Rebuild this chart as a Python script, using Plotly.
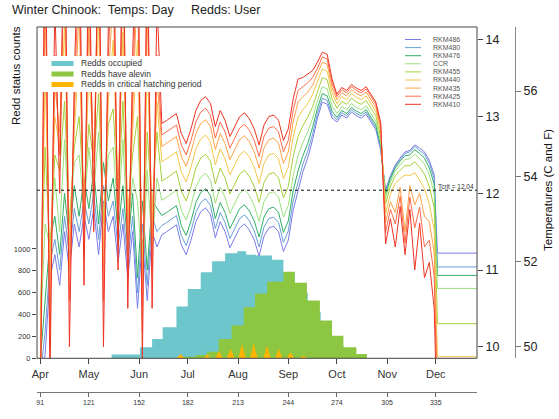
import plotly.graph_objects as go

# ---------------- data ----------------
month_days = [91, 121, 152, 182, 213, 244, 274, 305, 335]
month_labels = ['Apr', 'May', 'Jun', 'Jul', 'Aug', 'Sep', 'Oct', 'Nov', 'Dec']
count_ticks = [0, 200, 400, 600, 800, 1000]
c_ticks = [10, 11, 12, 13, 14]
f_ticks = [50, 52, 54, 56]
tcrit = 12.04

# Redd counts (weekly step bins: left edges, counts; last count 0 closes the step)
occ_edges = [135, 152.5, 160, 166.5, 175, 182, 190, 197, 205, 212.5, 218, 224, 234, 241, 248, 256, 264, 271, 278, 285]
occ_counts = [34, 100, 177, 284, 473, 634, 787, 888, 961, 979, 946, 940, 900, 780, 600, 420, 260, 120, 40, 0]
alv_edges = [176, 187, 194, 201, 209, 216.5, 223.5, 231, 241, 248, 255.5, 263.5, 271, 278, 286, 292.5]
alv_counts = [15, 30, 60, 177, 299, 467, 589, 700, 790, 690, 528, 345, 207, 100, 40, 0]
crit_days = [175, 177.6, 180, 192, 194, 196, 199, 201.2, 203.5, 206, 208.4, 211, 213.2, 215.5, 217.8, 220.4, 222.7, 225,
             228.6, 230.9, 233.2, 235.8, 238.1, 240.4, 243, 245.3, 247.6, 251.2, 253.5, 255.8]
crit_counts = [0, 40, 0, 0, 40, 0, 0, 70, 0, 0, 85, 0, 0, 131, 0, 0, 137, 0,
               0, 116, 0, 0, 85, 0, 0, 55, 0, 0, 24, 0]

# Daily water temperature (deg C), by site (sampled every few days)
temp_days = [91, 94, 97, 100, 103, 106, 109, 112, 115, 118, 121, 124, 127, 130, 133, 136, 139, 142, 145, 148,
             151, 154, 157, 160, 163,
             166, 169, 172, 175, 178, 181, 184, 187, 190, 193, 196, 199, 202, 205, 208, 211, 214, 217, 220, 223,
             226, 229, 232, 235, 238, 241, 244, 247, 250, 253, 256, 259, 262, 265, 268, 271, 274, 277, 280, 283,
             286, 289, 292, 295, 298, 301, 304, 307, 310, 313, 316, 319, 322, 325, 328, 331, 334,
             336, 361]
rkm486 = [9.5, 9.9, 10.9, 11.2, 10.8, 11.5, 11.0, 11.6, 11.3, 11.7, 11.4, 11.8, 11.2, 11.9, 11.5, 11.7, 11.1, 11.6, 10.9, 11.5,
          10.5, 11.4, 10.6, 11.5, 11.3,
          11.46, 11.50, 11.55, 11.59, 11.33, 11.20, 11.39, 11.63, 11.76, 11.81, 11.72, 11.42, 11.63, 11.50, 11.29, 11.42,
          11.55, 11.60, 11.52, 11.39, 11.18, 11.44, 11.55, 11.57, 11.50, 11.24, 11.39, 11.78, 12.04, 12.28, 12.46, 12.70,
          12.98, 13.19, 13.16, 12.98, 12.93, 13.02, 12.98, 13.06, 13.01, 12.98, 13.03, 12.93, 12.83, 12.56, 12.04, 12.23,
          12.37, 12.46, 12.54, 12.56, 12.63, 12.59, 12.54, 12.43, 12.24,
          11.22, 11.22]
rkm480 = [9.6, 10.2, 11.1, 11.4, 11.0, 11.7, 11.2, 11.8, 11.5, 11.9, 11.6, 12.0, 11.4, 12.1, 11.7, 11.9, 11.3, 11.8, 11.1, 11.7,
          10.7, 11.6, 10.8, 11.7, 11.5,
          11.58, 11.62, 11.67, 11.71, 11.45, 11.32, 11.51, 11.75, 11.88, 11.93, 11.84, 11.54, 11.75, 11.62, 11.41, 11.54,
          11.67, 11.72, 11.64, 11.51, 11.30, 11.56, 11.67, 11.69, 11.62, 11.36, 11.51, 11.90, 12.16, 12.38, 12.55, 12.77,
          13.04, 13.24, 13.21, 13.02, 12.96, 13.05, 13.01, 13.09, 13.04, 13.01, 13.06, 12.96, 12.86, 12.59, 12.02, 12.21,
          12.35, 12.44, 12.52, 12.54, 12.61, 12.56, 12.51, 12.39, 12.19,
          11.04, 11.04]
rkm476 = [9.8, 10.6, 11.4, 11.7, 11.2, 12.0, 11.4, 12.1, 11.7, 12.2, 11.8, 12.3, 11.6, 12.4, 11.9, 12.2, 11.5, 12.1, 11.3, 12.0,
          10.9, 11.9, 11.0, 11.9, 11.8,
          11.71, 11.75, 11.80, 11.84, 11.58, 11.45, 11.64, 11.88, 12.01, 12.06, 11.97, 11.67, 11.88, 11.75, 11.54, 11.67,
          11.80, 11.85, 11.77, 11.64, 11.43, 11.69, 11.80, 11.82, 11.75, 11.49, 11.64, 12.03, 12.29, 12.49, 12.65, 12.86,
          13.11, 13.30, 13.27, 13.07, 12.99, 13.08, 13.04, 13.12, 13.07, 13.04, 13.09, 12.99, 12.89, 12.62, 11.99, 12.19,
          12.33, 12.42, 12.49, 12.50, 12.57, 12.52, 12.46, 12.33, 12.12,
          10.93, 10.93]
ccr = [10.1, 11.6, 11.3, 12.2, 11.5, 12.7, 11.6, 12.4, 12.5, 11.8, 12.6, 12.0, 12.8, 11.7, 12.5, 12.6, 11.7, 12.7, 11.4, 12.2,
       11.9, 11.0, 12.3, 11.3, 12.2,
       11.91, 11.95, 12.00, 12.04, 11.78, 11.65, 11.84, 12.08, 12.21, 12.26, 12.17, 11.87, 12.08, 11.95, 11.74, 11.87,
       12.00, 12.05, 11.97, 11.84, 11.63, 11.89, 12.00, 12.02, 11.95, 11.69, 11.84, 12.23, 12.49, 12.66, 12.80, 12.98,
       13.21, 13.39, 13.36, 13.14, 13.04, 13.13, 13.09, 13.17, 13.12, 13.09, 13.14, 13.04, 12.94, 12.67, 11.94, 12.15,
       12.29, 12.37, 12.44, 12.45, 12.51, 12.45, 12.38, 12.24, 12.00,
       10.76, 10.76]
rkm455 = [10.4, 12.6, 11.2, 12.5, 12.3, 13.2, 11.6, 12.6, 13.0, 11.9, 12.9, 12.4, 13.3, 11.6, 12.9, 13.1, 11.9, 13.2, 11.7, 12.5,
          13.0, 11.1, 12.8, 11.8, 12.8,
          12.16, 12.20, 12.25, 12.29, 12.03, 11.90, 12.09, 12.33, 12.46, 12.51, 12.42, 12.12, 12.33, 12.20, 11.99, 12.12,
          12.25, 12.30, 12.22, 12.09, 11.88, 12.14, 12.25, 12.27, 12.20, 11.94, 12.09, 12.48, 12.74, 12.88, 12.99, 13.13,
          13.33, 13.51, 13.48, 13.23, 13.11, 13.20, 13.16, 13.24, 13.19, 13.16, 13.21, 13.11, 13.01, 12.74, 11.86, 12.09,
          12.23, 12.30, 12.36, 12.36, 12.41, 12.34, 12.25, 12.09, 11.81,
          10.3, 10.3]
rkm440 = [9.8, 13.6, 10.9, 13.0, 12.6, 14.2, 11.3, 12.8, 13.8, 11.8, 13.6, 12.5, 14.3, 11.3, 13.2, 14.0, 11.9, 14.1, 11.6, 12.8,
          14.0, 10.9, 13.7, 11.6, 13.2,
          12.41, 12.45, 12.50, 12.54, 12.28, 12.15, 12.34, 12.58, 12.71, 12.76, 12.67, 12.37, 12.58, 12.45, 12.24, 12.37,
          12.50, 12.55, 12.47, 12.34, 12.13, 12.39, 12.50, 12.52, 12.45, 12.19, 12.34, 12.73, 12.99, 13.09, 13.17, 13.29,
          13.46, 13.62, 13.59, 13.31, 13.17, 13.26, 13.22, 13.30, 13.25, 13.22, 13.27, 13.17, 13.07, 12.80, 11.74, 11.99,
          12.13, 12.19, 12.24, 12.23, 12.27, 12.17, 12.06, 11.86, 11.52,
          9.87, 9.87]
rkm435 = [9.5, 14.6, 10.5, 13.4, 12.8, 15.0, 11.0, 13.0, 14.4, 11.6, 14.2, 12.4, 15.0, 11.0, 13.5, 14.6, 11.8, 14.8, 11.4, 13.0,
          14.8, 10.6, 14.4, 11.4, 13.5,
          12.61, 12.65, 12.70, 12.74, 12.48, 12.35, 12.54, 12.78, 12.91, 12.96, 12.87, 12.57, 12.78, 12.65, 12.44, 12.57,
          12.70, 12.75, 12.67, 12.54, 12.33, 12.59, 12.70, 12.72, 12.65, 12.39, 12.54, 12.93, 13.19, 13.26, 13.32, 13.41,
          13.56, 13.71, 13.68, 13.38, 13.22, 13.31, 13.27, 13.35, 13.30, 13.27, 13.32, 13.22, 13.12, 12.85, 11.62, 11.89,
          11.75, 12.08, 11.50, 12.10, 11.85, 12.00, 11.70, 11.63, 11.23,
          9.5, 9.5]
rkm425 = [9.2, 15.2, 10.0, 13.8, 12.5, 15.5, 10.6, 13.2, 15.0, 11.2, 14.8, 12.0, 15.5, 10.6, 13.8, 15.2, 11.4, 15.4, 11.0, 13.4,
          15.5, 10.2, 15.0, 11.0, 13.8,
          12.76, 12.80, 12.85, 12.89, 12.63, 12.50, 12.69, 12.93, 13.06, 13.11, 13.02, 12.72, 12.93, 12.80, 12.59, 12.72,
          12.85, 12.90, 12.82, 12.69, 12.48, 12.74, 12.85, 12.87, 12.80, 12.54, 12.69, 13.08, 13.34, 13.39, 13.44, 13.51,
          13.63, 13.78, 13.75, 13.44, 13.26, 13.35, 13.31, 13.39, 13.34, 13.31, 13.36, 13.26, 13.16, 12.89, 11.49, 11.79,
          11.60, 11.96, 11.35, 11.95, 11.55, 11.82, 11.30, 11.39, 10.92,
          9.2, 9.2]
rkm410 = [8.8, 16.0, 9.5, 14.5, 12.0, 16.0, 10.0, 13.5, 15.8, 10.8, 15.5, 11.5, 16.0, 10.0, 14.2, 15.8, 11.0, 16.0, 10.5, 13.8,
          16.0, 9.8, 15.5, 10.5, 14.5,
          12.91, 12.95, 13.00, 13.04, 12.78, 12.65, 12.84, 13.08, 13.21, 13.26, 13.17, 12.87, 13.08, 12.95, 12.74, 12.87,
          13.00, 13.05, 12.97, 12.84, 12.63, 12.89, 13.00, 13.02, 12.95, 12.69, 12.84, 13.23, 13.49, 13.51, 13.55, 13.60,
          13.71, 13.84, 13.81, 13.49, 13.29, 13.38, 13.34, 13.42, 13.37, 13.34, 13.39, 13.29, 13.19, 12.92, 11.34, 11.67,
          11.30, 11.83, 11.20, 11.79, 11.00, 11.61, 10.90, 11.10, 10.50,
          8.9, 8.9]

site_names = ['RKM486', 'RKM480', 'RKM476', 'CCR', 'RKM455', 'RKM440', 'RKM435', 'RKM425', 'RKM410']
site_values = [rkm486, rkm480, rkm476, ccr, rkm455, rkm440, rkm435, rkm425, rkm410]
site_colors = ['#7b7be8', '#6a9ed8', '#2fae66', '#9be07c', '#a6cf3a', '#f2c64c', '#ffa24a', '#ff6a4a', '#ec3424']

redd_names = ['Redds occupied', 'Redds have alevin', 'Redds in critical hatching period']
redd_colors = ['#6cc6cb', '#8dc641', '#ffb400']

# ---------------- geometry ----------------
W, H = 559, 419
ML, MR, MT, MB = 37, 29, 27, 27
PW, PH = W - ML - MR, H - MT - MB
x_range = [89, 360.4]
count_range = [0, 3028]
c_range = [9.849, 14.168]
f_range = [c * 1.8 + 32 for c in c_range]


def px(x):
    return (x - ML) / PW


def py(y):
    return (H - MB - y) / PH


x_dom = [0, px(477)]
y_dom = [py(358.3), 1]
FONT = 'Liberation Sans, Arial, Helvetica, sans-serif'

fig = go.Figure()

# redd count areas (left axis)
fig.add_trace(go.Scatter(x=occ_edges, y=occ_counts, mode='lines', line=dict(width=0, shape='hv'),
                         fill='tozeroy', fillcolor=redd_colors[0], xaxis='x', yaxis='y',
                         showlegend=False, hoverinfo='skip'))
fig.add_trace(go.Scatter(x=alv_edges, y=alv_counts, mode='lines', line=dict(width=0, shape='hv'),
                         fill='tozeroy', fillcolor=redd_colors[1], xaxis='x', yaxis='y',
                         showlegend=False, hoverinfo='skip'))
fig.add_trace(go.Scatter(x=crit_days, y=crit_counts, mode='lines', line=dict(width=0),
                         fill='tozeroy', fillcolor=redd_colors[2], xaxis='x', yaxis='y',
                         showlegend=False, hoverinfo='skip'))

# temperature lines (right axis)
for name, vals, col in zip(site_names, site_values, site_colors):
    fig.add_trace(go.Scatter(x=temp_days, y=vals, mode='lines', name=name,
                             line=dict(color=col, width=1), xaxis='x', yaxis='y2',
                             showlegend=False, cliponaxis=True))

# critical temperature
fig.add_trace(go.Scatter(x=x_range, y=[tcrit, tcrit], mode='lines',
                         line=dict(color='#111', width=1, dash='dot'), xaxis='x', yaxis='y2',
                         showlegend=False, hoverinfo='skip'))

# dummies so secondary axes render
fig.add_trace(go.Scatter(x=[month_days[0]], y=[0], xaxis='x2', yaxis='y', mode='markers',
                         marker=dict(opacity=0), showlegend=False, hoverinfo='skip'))
fig.add_trace(go.Scatter(x=[month_days[0]], y=[f_ticks[0]], xaxis='x', yaxis='y3', mode='markers',
                         marker=dict(opacity=0), showlegend=False, hoverinfo='skip'))

fig.update_layout(
    width=W, height=H,
    margin=dict(l=ML, r=MR, t=MT, b=MB, pad=0),
    paper_bgcolor='white', plot_bgcolor='white',
    font=dict(family=FONT, color='#222'),
    showlegend=False,
    xaxis=dict(domain=x_dom, range=x_range, anchor='y', tickvals=month_days, ticktext=month_labels,
               ticks='outside', ticklen=5, tickcolor='#444', tickfont=dict(size=11, color='#333'),
               showgrid=False, zeroline=False, showline=False),
    xaxis2=dict(domain=x_dom, range=x_range, overlaying='x', anchor='free', position=0, side='bottom',
                tickvals=month_days, ticktext=[str(d) for d in month_days],
                ticks='outside', ticklen=4, tickcolor='#666', tickfont=dict(size=7, color='#333'),
                showline=True, linecolor='#777', linewidth=1, showgrid=False, zeroline=False),
    yaxis=dict(domain=y_dom, range=count_range, anchor='x', tickvals=count_ticks,
               ticks='outside', ticklen=4, tickcolor='#444', tickfont=dict(size=7.5, color='#333'),
               showgrid=False, zeroline=False, showline=False),
    yaxis2=dict(domain=y_dom, range=c_range, overlaying='y', anchor='x', side='right', tickvals=c_ticks,
                ticks='outside', ticklen=5, tickcolor='#444', tickfont=dict(size=12.5, color='#222'),
                showgrid=False, zeroline=False, showline=False),
    yaxis3=dict(domain=y_dom, range=f_range, overlaying='y', anchor='free', position=px(515), side='right',
                tickvals=f_ticks, ticks='outside', ticklen=5, tickcolor='#777',
                tickfont=dict(size=12.5, color='#222'),
                showline=True, linecolor='#888', linewidth=1, showgrid=False, zeroline=False),
)

shapes = []
annotations = []
# plot box
shapes.append(dict(type='rect', xref='x domain', yref='y domain', x0=0, x1=1, y0=0, y1=1,
                   line=dict(color='#444', width=1), layer='above'))
# left legend background + swatches
shapes.append(dict(type='rect', xref='paper', yref='paper', x0=px(40), x1=px(214), y0=py(92), y1=py(56),
                   fillcolor='white', line=dict(width=0), layer='above'))
leg_y = [63.5, 74, 84.5]
for yy, nm, col in zip(leg_y, redd_names, redd_colors):
    shapes.append(dict(type='line', xref='paper', yref='paper', x0=px(51.5), x1=px(73.5), y0=py(yy), y1=py(yy),
                       line=dict(color=col, width=5), layer='above'))
    annotations.append(dict(xref='paper', yref='paper', x=px(79), y=py(yy), text=nm, showarrow=False,
                            xanchor='left', yanchor='middle', font=dict(size=8.5, color='#333')))
# right (temperature) legend
for i, (nm, col) in enumerate(zip(site_names, site_colors)):
    yy = 39.5 + i * 8.1
    shapes.append(dict(type='line', xref='paper', yref='paper', x0=px(405), x1=px(421), y0=py(yy), y1=py(yy),
                       line=dict(color=col, width=1), layer='above'))
    annotations.append(dict(xref='paper', yref='paper', x=px(431), y=py(yy), text=nm, showarrow=False,
                            xanchor='left', yanchor='middle', font=dict(size=7, color='#555')))

annotations += [
    dict(xref='paper', yref='paper', x=px(10), y=py(10), text='Winter Chinook:  Temps: Day     Redds: User',
         showarrow=False, xanchor='left', yanchor='middle', font=dict(size=12.5, color='#222')),
    dict(xref='paper', yref='paper', x=px(16), y=py(76), text='Redd status counts', textangle=-90,
         showarrow=False, xanchor='center', yanchor='middle', font=dict(size=11.5, color='#111')),
    dict(xref='paper', yref='paper', x=px(548), y=py(190), text='Temperatures (C and F)', textangle=-90,
         showarrow=False, xanchor='center', yanchor='middle', font=dict(size=11.5, color='#111')),
    dict(xref='paper', yref='paper', x=px(476), y=py(186), text='Tcrit = 12.04', showarrow=False,
         xanchor='right', yanchor='middle', font=dict(size=6.5, color='#333')),
]
fig.update_layout(shapes=shapes, annotations=annotations)

fig.write_html('out.html')
